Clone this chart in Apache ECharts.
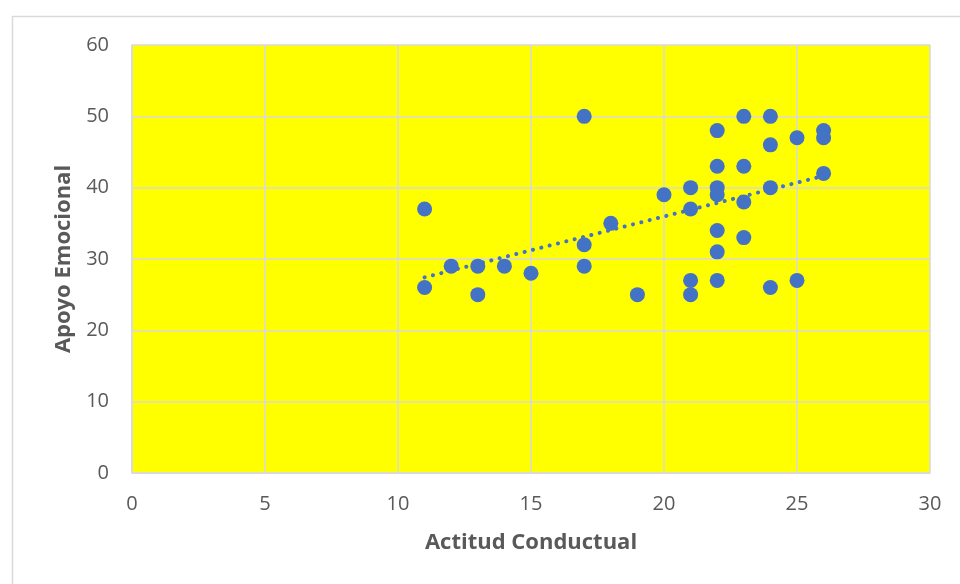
<!DOCTYPE html>
<html>
<head>
<meta charset="utf-8">
<script src="https://cdn.jsdelivr.net/npm/echarts@6/dist/echarts.min.js"></script>
<style>html,body{margin:0;padding:0;background:#fff;}#c{width:960px;height:584px;}</style>
</head>
<body>
<div id="c"></div>
<script>
const xTitle = 'Actitud Conductual';
const yTitle = 'Apoyo Emocional';
const actitud = [11,11,12,13,13,14,15,17,17,17,18,19,20,21,21,21,21,22,22,22,22,22,22,22,23,23,23,23,24,24,24,24,25,25,26,26,26];
const apoyo   = [37,26,29,29,25,29,28,50,32,29,35,25,39,40,37,27,25,48,43,40,39,34,31,27,50,43,38,33,50,46,40,26,47,27,48,47,42];
const xTicks = [0,5,10,15,20,25,30];
const yTicks = [0,10,20,30,40,50,60];

const points = actitud.map((x, i) => [x, apoyo[i]]);
// linear least-squares trendline over data range
const n = actitud.length;
const mx = actitud.reduce((a,b)=>a+b,0)/n;
const my = apoyo.reduce((a,b)=>a+b,0)/n;
let sxy = 0, sxx = 0;
for (let i=0;i<n;i++){ sxy += (actitud[i]-mx)*(apoyo[i]-my); sxx += (actitud[i]-mx)**2; }
const slope = sxy/sxx, icpt = my - slope*mx;
const xmin = Math.min(...actitud), xmax = Math.max(...actitud);
const trend = [[xmin, icpt+slope*xmin],[xmax, icpt+slope*xmax]];

const chart = echarts.init(document.getElementById('c'));
const txt = '#595959', grid = '#D9D9D9';
chart.setOption({
  animation: false,
  graphic: [{type:'rect', shape:{x:12.5,y:16.5,width:1000,height:700}, style:{fill:'none', stroke:'#D9D9D9', lineWidth:1.5}, z:-10}],
  grid: {left:132, right:30, top:45, bottom:111, show:true, backgroundColor:'#FFFF00', borderWidth:0},
  xAxis: {
    type:'value', min:0, max:30, interval:5,
    name: xTitle, nameLocation:'middle', nameGap:59,
    nameTextStyle:{color:txt, fontSize:22, fontWeight:'bold', fontFamily:'Open Sans'},
    axisLine:{show:true, lineStyle:{color:grid, width:1.5}},
    axisTick:{show:false},
    axisLabel:{color:txt, fontSize:20, fontFamily:'Open Sans', margin:21},
    splitLine:{show:true, lineStyle:{color:grid, width:1.5}}
  },
  yAxis: {
    type:'value', min:0, max:60, interval:10,
    name: yTitle, nameLocation:'middle', nameGap:57,
    nameTextStyle:{color:txt, fontSize:22, fontWeight:'bold', fontFamily:'Open Sans'},
    axisLine:{show:true, lineStyle:{color:grid, width:1.5}},
    axisTick:{show:false},
    axisLabel:{color:txt, fontSize:20, fontFamily:'Open Sans', margin:23},
    splitLine:{show:true, lineStyle:{color:grid, width:1.5}}
  },
  series: [
    {type:'scatter', data:points, symbolSize:15, itemStyle:{color:'#4472C4', opacity:1}, z:3},
    {type:'line', data:trend, symbol:'none', lineStyle:{color:'#4472C4', width:4, type:[0.1,8.5], cap:'round'}, z:4}
  ]
});
</script>
</body>
</html>
